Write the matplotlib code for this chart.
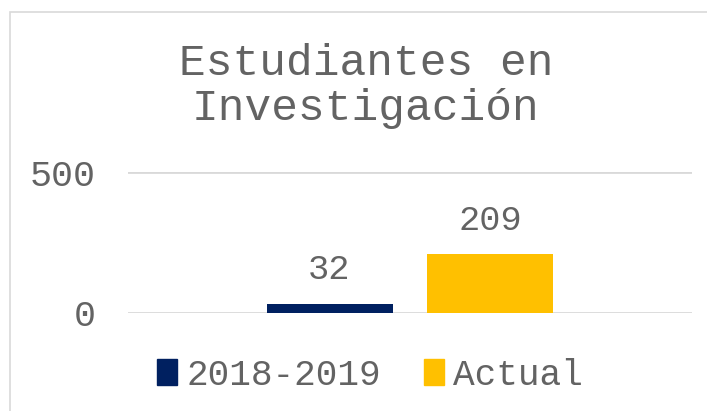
import matplotlib.pyplot as plt
from matplotlib.patches import Rectangle, Patch

# data
series = ["2018-2019", "Actual"]
values = [32, 209]
colors = ["#002060", "#FFC000"]
title = "Estudiantes en\nInvestigación"
yticks = [0, 500]

W, H = 707, 411
fig = plt.figure(figsize=(W / 100, H / 100), dpi=100)
plt.rcParams["font.family"] = ["Liberation Mono", "DejaVu Sans Mono"]
text_color = "#636363"
grid_color = "#D9D9D9"

# outer chart border (only left and top are visible in the crop)
fig.patches.append(Rectangle((10 / W, -0.1), 1.2, 1.1 - 12 / H,
                             transform=fig.transFigure, fill=False,
                             edgecolor=grid_color, linewidth=1.2))

left, right, top, bottom = 128, 692, 172, 313
ax = fig.add_axes([left / W, 1 - bottom / H, (right - left) / W, (bottom - top) / H])

width = 126 / 564
offsets = [-0.1427, 0.1418]
for name, val, col, off in zip(series, values, colors, offsets):
    ax.bar(off, val, width=width, color=col, label=name, zorder=3)
    ax.text(off, val + 62, str(val), ha="center", va="bottom",
            fontsize=25.5, color=text_color)

ax.set_xlim(-0.5, 0.5)
ax.set_ylim(0, 500)
ax.set_yticks(yticks)
ax.set_yticklabels([str(t) for t in yticks], fontsize=26.5, color=text_color)
ax.tick_params(axis="y", length=0, pad=23)
ax.set_xticks([])
for s in ax.spines.values():
    s.set_visible(False)
ax.grid(axis="y", color=grid_color, linewidth=2, zorder=0)
ax.set_axisbelow(True)
ax.patch.set_alpha(0)

fig.text(366 / W, 1 - 86 / H, title, ha="center", va="center",
         fontsize=32, color=text_color, linespacing=1.12)

handles = [Patch(color=c, label=s) for s, c in zip(series, colors)]
fig.legend(handles=handles, loc="center", bbox_to_anchor=(370 / W, 1 - 375 / H),
           ncol=2, frameon=False, fontsize=26, handlelength=0.55,
           handleheight=0.7, handletextpad=0.25, columnspacing=1.2,
           labelcolor=text_color)

fig.savefig("out.png", dpi=100)
